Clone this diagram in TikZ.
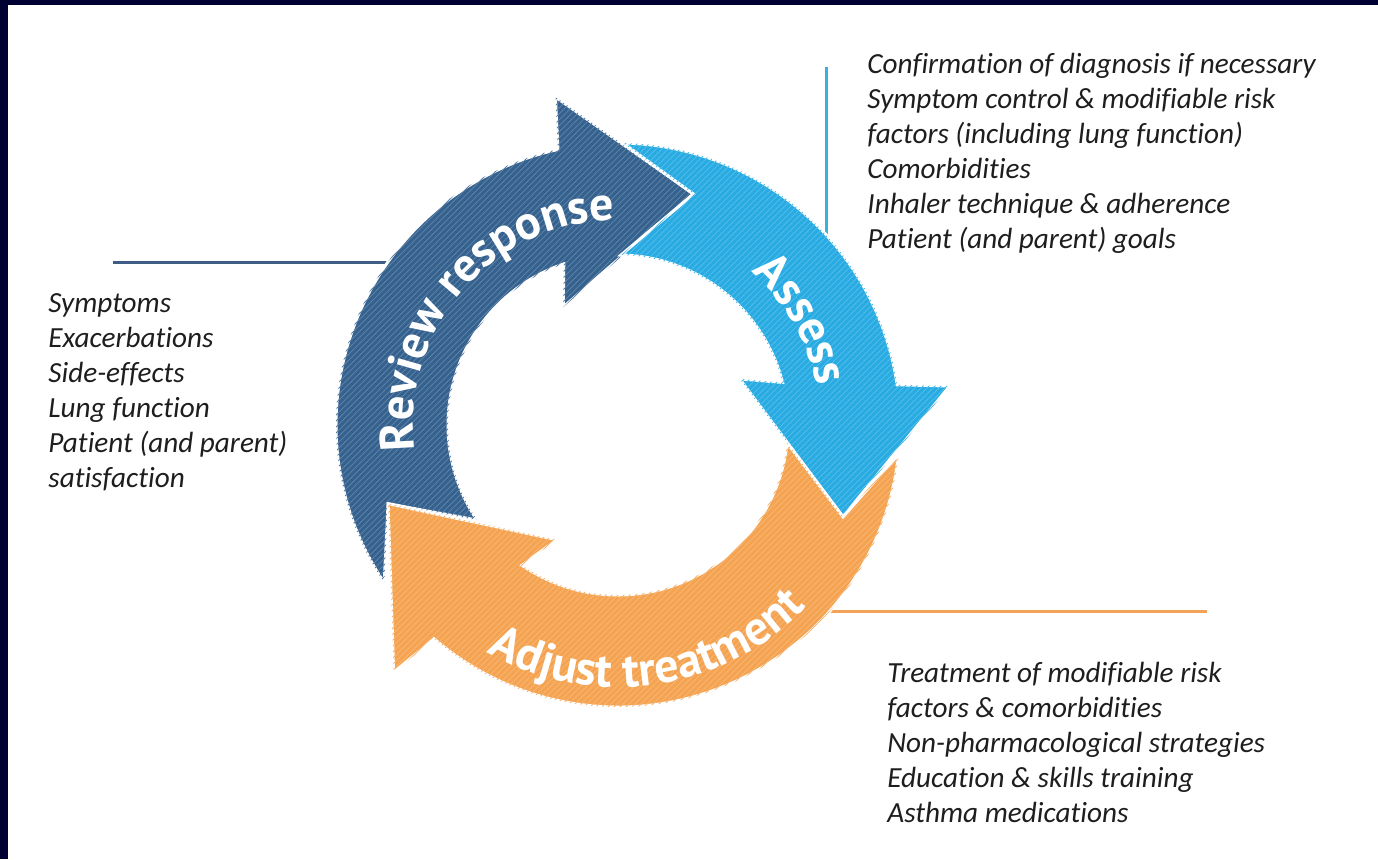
\documentclass[tikz,border=0pt]{standalone}
\usepackage{fontspec}
\setmainfont{Carlito}[Ligatures=NoCommon]
\newfontfamily\labelsans{PT Sans}
\usetikzlibrary{calc,decorations.text,patterns}

\definecolor{frameblue}{HTML}{000033}
\definecolor{reviewblue}{HTML}{35618F}
\definecolor{assesscyan}{HTML}{27ABE2}
\definecolor{adjustorange}{HTML}{F5A350}
\definecolor{reviewline}{HTML}{3D5C86}
\definecolor{assessline}{HTML}{38B1E1}
\definecolor{adjustline}{HTML}{F3A257}
\definecolor{listtext}{HTML}{1E1E1E}

\newcommand{\steplabel}{\labelsans\bfseries\fontsize{24}{24}\selectfont}

\tikzset{
  cycle arrow/.style={draw=white, line width=1.5pt, line join=miter},
  % multi-line nodes sit on the baseline of their last line
  checklist/.style={anchor=base west, align=left, inner sep=0pt, text=listtext,
    font=\itshape\fontsize{14.6}{17.5}\selectfont},
  link/.style={line width=1.5pt},
  step label/.style={decorate, decoration={text along path, text align=center,
    text color=white, text={|\steplabel|#1}}}
}

\begin{document}
\begin{tikzpicture}[x=0.5pt, y=-0.5pt]
\fill[white] (0,0) rectangle (1378,859);
\fill[frameblue] (0,0) rectangle (1378,5);
\fill[frameblue] (0,0) rectangle (8,859);
\useasboundingbox (0,0) rectangle (1378,859);

\coordinate (c) at (618,425);

% what goes on at each step
\node[checklist] (review items) at (48,487) {Symptoms\\Exacerbations\\Side-effects\\Lung function\\Patient (and parent)\\satisfaction};
\node[checklist] (assess items) at (867,248) {Confirmation of diagnosis if necessary\\Symptom control \& modifiable risk\\factors (including lung function)\\Comorbidities\\Inhaler technique \& adherence\\Patient (and parent) goals};
\node[checklist] (adjust items) at (887,822) {Treatment of modifiable risk\\factors \& comorbidities\\Non-pharmacological strategies\\Education \& skills training\\Asthma medications};

% leader lines from the lists to the ring
\coordinate (review end) at (113,262);
\coordinate (review edge) at ($(c)+(215.3:282)$);
\draw[link, reviewline] (review end) -- (review end -| review edge);
\coordinate (assess end) at (826,67);
\coordinate (assess edge) at ($(c)+(317.6:282)$);
\draw[link, assessline] (assess end) -- (assess end |- assess edge);
\coordinate (adjust end) at (1207,611);
\coordinate (adjust edge) at ($(c)+(41.3:282)$);
\draw[link, adjustline] (adjust end) -- (adjust end -| adjust edge);

% the three curved arrows, each tail notched round the head before it
\foreach \col/\tail/\base/\prev in {reviewblue/146/257.7/161.1, assesscyan/271/351.8/288.1, adjustorange/366/490.7/382.2}
  \path[cycle arrow, fill=\col, postaction={pattern=north east lines, pattern color=\col!80!white}]
    ($(c)+(\tail:282)$) arc[start angle=\tail, end angle=\base, radius=282]
    -- ($(c)+({\base+1.5}:334)$) -- ($(c)+({\base+30.4}:243)$)
    -- ($(c)+({\base-12.6}:130)$) -- ($(c)+({\base-6.3}:170)$)
    arc[start angle=\base-6.3, end angle=\tail, radius=170]
    -- ($(c)+(\prev:243)$) -- cycle;

\path[step label=Review response] ($(c)+(161:205)$) arc[start angle=161, end angle=281, radius=205];
\path[step label=Assess] ($(c)+(270:203)$) arc[start angle=270, end angle=390, radius=203];
\path[step label=Adjust treatment] ($(c)+(142:262)$) arc[start angle=142, end angle=22, radius=262];
\end{tikzpicture}
\end{document}
